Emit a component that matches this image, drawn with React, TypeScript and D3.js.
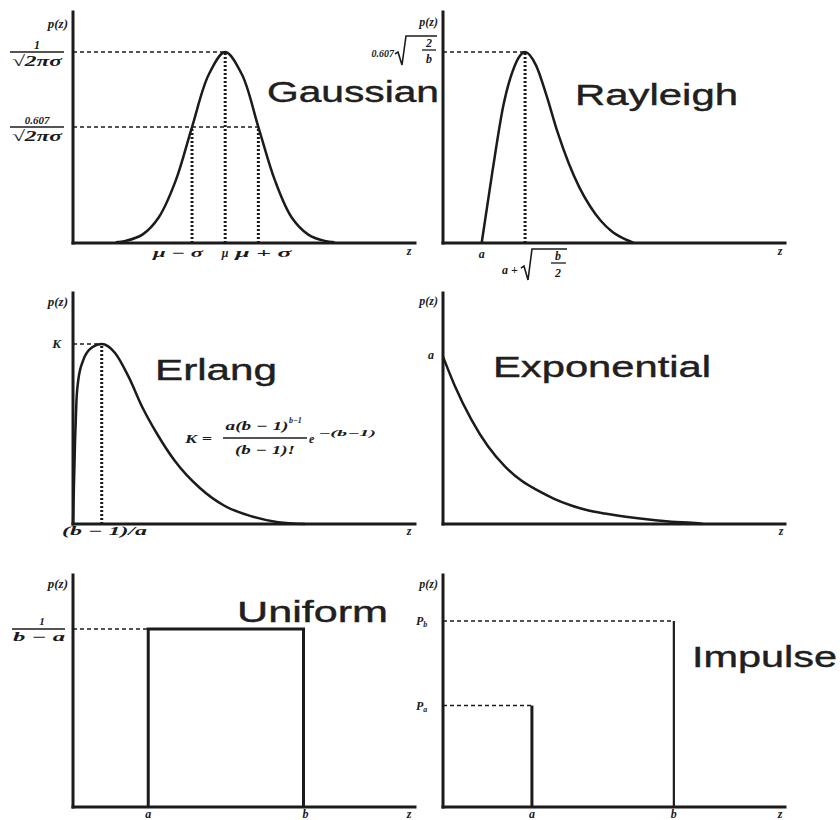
import React from "react";
import * as d3 from "d3";

// ---------------- data ----------------
const titles = ["Gaussian", "Rayleigh", "Erlang", "Exponential", "Uniform", "Impulse"];

const gaussianZ = [1.25, 1.54, 2.03, 2.51, 3.0, 3.48, 3.97, 4.45, 4.94, 5.42, 5.91, 6.39, 6.88, 7.36, 7.65];
const gaussianP = [0.004, 0.011, 0.044, 0.135, 0.325, 0.607, 0.882, 1, 0.882, 0.607, 0.325, 0.135, 0.044, 0.011, 0.004];
const gaussianMarks = [3.48, 4.45, 5.42];
const gaussianMarkLevels = [0.607, 1, 0.607];
const gaussianTickLabels = ["μ − σ", "μ", "μ + σ"];

const rayleighZ = [1.13, 1.45, 1.765, 2.08, 2.25, 2.4, 2.72, 3.03, 3.35, 3.67, 3.99, 4.31, 4.62, 4.94, 5.26, 5.58];
const rayleighP = [0, 0.38, 0.72, 0.92, 0.98, 1, 0.93, 0.77, 0.58, 0.42, 0.29, 0.19, 0.115, 0.06, 0.025, 0];
const rayleighPeak = 2.4;
const rayleighStart = 1.13;

const erlangZ = [0, 0.06, 0.1, 0.155, 0.3, 0.55, 0.84, 1.23, 1.62, 2.05, 2.46, 2.98, 3.71, 4.44, 5.18, 6.0, 6.78];
const erlangP = [0, 0.46, 0.68, 0.8, 0.91, 0.98, 1, 0.95, 0.82, 0.64, 0.5, 0.35, 0.2, 0.1, 0.045, 0.01, 0];
const erlangPeak = 0.84;

const exponentialZ = [0, 0.34, 0.83, 1.32, 1.81, 2.3, 2.78, 3.25, 3.75, 4.2, 4.73, 5.7, 6.68, 7.46, 7.6];
const exponentialP = [0.93, 0.77, 0.58, 0.43, 0.32, 0.24, 0.185, 0.14, 0.103, 0.078, 0.058, 0.032, 0.013, 0.004, 0];

const uniformBounds = [2.2, 6.74];
const uniformHeight = 1.0;

const impulseZ = [2.6, 6.75];
const impulseP = [0.57, 1.045];

// ---------------- layout ----------------
const COLS: [number, number][] = [
  [73, 415],
  [443, 785],
];
const ROWS = [
  { top: 12, base: 243, unit: 191 },
  { top: 293, base: 524, unit: 180 },
  { top: 575, base: 807, unit: 178 },
];

const INK = "#1b1b1b";
const SERIF = "'Liberation Serif', 'DejaVu Serif', serif";
const SANS = "'Liberation Sans', Arial, sans-serif";

function makeScales(col: number, row: number) {
  const [x0, x1] = COLS[col];
  const r = ROWS[row];
  const x = d3.scaleLinear().domain([0, 10]).range([x0, x1]);
  const y = d3.scaleLinear().domain([0, 1]).range([r.base, r.base - r.unit]);
  return { x, y, top: r.top };
}

type S = ReturnType<typeof makeScales>;

const curvePath = (s: S, zs: number[], ps: number[], curve: any = d3.curveCatmullRom.alpha(0.5)) =>
  d3
    .line<number>()
    .x((_, i) => s.x(zs[i]))
    .y((_, i) => s.y(ps[i]))
    .curve(curve)(zs) || "";

const Axes = ({ s }: { s: S }) => (
  <g stroke={INK} strokeWidth={3} fill="none" strokeLinecap="square">
    <line x1={s.x(0)} y1={s.top} x2={s.x(0)} y2={s.y(0)} />
    <line x1={s.x(0)} y1={s.y(0)} x2={s.x(10)} y2={s.y(0)} />
  </g>
);

const M = ({ x, y, size = 12, anchor = "start", len, children }: any) => (
  <text
    x={x}
    y={y}
    fontFamily={SERIF}
    fontStyle="italic"
    fontWeight="bold"
    fontSize={size}
    textAnchor={anchor}
    fill={INK}
    textLength={len}
    lengthAdjust={len ? "spacingAndGlyphs" : undefined}
  >
    {children}
  </text>
);

const Title = ({ x, y, len, children }: any) => (
  <text
    x={x}
    y={y}
    fontFamily={SANS}
    fontSize={29}
    fill="#202020"
    stroke="#202020"
    strokeWidth={0.4}
    textLength={len}
    lengthAdjust="spacingAndGlyphs"
  >
    {children}
  </text>
);

const Radical = ({ x, top, bottom, width }: any) => {
  const h = bottom - top;
  const d = `M${x},${top + h * 0.62} L${x + 3},${top + h * 0.55} L${x + 7},${bottom} L${x + 11},${top} L${x + width},${top}`;
  return <path d={d} fill="none" stroke={INK} strokeWidth={1.6} />;
};

const Dashed = ({ x1, x2, y }: any) => (
  <line x1={x1} x2={x2} y1={y} y2={y} stroke={INK} strokeWidth={1.5} strokeDasharray="4 3" />
);
const Dotted = ({ x, y1, y2 }: any) => (
  <line x1={x} x2={x} y1={y1} y2={y2} stroke={INK} strokeWidth={3} strokeDasharray="2 2" />
);

const Gaussian = () => {
  const s = makeScales(0, 0);
  const mu = gaussianMarks[1];
  const muPlus = gaussianMarks[2];
  return (
    <g>
      <Dashed x1={s.x(0)} x2={s.x(mu)} y={s.y(1)} />
      <Dashed x1={s.x(0)} x2={s.x(muPlus)} y={s.y(0.607)} />
      {gaussianMarks.map((m, i) => (
        <Dotted key={i} x={s.x(m)} y1={s.y(0)} y2={s.y(gaussianMarkLevels[i])} />
      ))}
      <path d={curvePath(s, gaussianZ, gaussianP)} fill="none" stroke={INK} strokeWidth={2.5} />
      <Axes s={s} />
      <M x={68} y={28} size={13} anchor="end">p(z)</M>
      <M x={37} y={s.y(1) - 3} size={12} anchor="middle">1</M>
      <line x1={10} x2={64} y1={s.y(1)} y2={s.y(1)} stroke={INK} strokeWidth={1.5} />
      <M x={37} y={s.y(1) + 14} size={15} anchor="middle" len={50}>√2πσ</M>
      <M x={37} y={s.y(0.607) - 3} size={11} anchor="middle">0.607</M>
      <line x1={10} x2={64} y1={s.y(0.607)} y2={s.y(0.607)} stroke={INK} strokeWidth={1.5} />
      <M x={37} y={s.y(0.607) + 14} size={15} anchor="middle" len={50}>√2πσ</M>
      <M x={s.x(gaussianMarks[0]) + 11} y={257} size={12} anchor="end" len={50}>{gaussianTickLabels[0]}</M>
      <M x={s.x(gaussianMarks[1])} y={257} size={12} anchor="middle">{gaussianTickLabels[1]}</M>
      <M x={s.x(gaussianMarks[2]) - 23} y={257} size={12} anchor="start" len={56}>{gaussianTickLabels[2]}</M>
      <M x={409} y={255} size={12} anchor="middle">z</M>
      <Title x={267} y={102} len={172}>{titles[0]}</Title>
    </g>
  );
};

const Rayleigh = () => {
  const s = makeScales(1, 0);
  return (
    <g>
      <Title x={575} y={105} len={163}>{titles[1]}</Title>
      <Dashed x1={s.x(0)} x2={s.x(rayleighPeak)} y={s.y(1)} />
      <Dotted x={s.x(rayleighPeak)} y1={s.y(0)} y2={s.y(1)} />
      <path d={curvePath(s, rayleighZ, rayleighP, d3.curveMonotoneX)} fill="none" stroke={INK} strokeWidth={2.5} />
      <Axes s={s} />
      <M x={438} y={26} size={12} anchor="end">p(z)</M>
      <M x={394} y={57} size={10} anchor="end">0.607</M>
      <Radical x={395} top={36} bottom={65} width={42} />
      <M x={429} y={47} size={12} anchor="middle">2</M>
      <line x1={422} x2={436} y1={50} y2={50} stroke={INK} strokeWidth={1.3} />
      <M x={429} y={63} size={12} anchor="middle">b</M>
      <M x={s.x(rayleighStart)} y={258} size={12} anchor="middle">a</M>
      <M x={502} y={274} size={12} anchor="start">a +</M>
      <Radical x={521} top={249} bottom={280} width={46} />
      <M x={558} y={260} size={12} anchor="middle">b</M>
      <line x1={551} x2={566} y1={263} y2={263} stroke={INK} strokeWidth={1.3} />
      <M x={558} y={277} size={12} anchor="middle">2</M>
      <M x={780} y={255} size={12} anchor="middle">z</M>
    </g>
  );
};

const Erlang = () => {
  const s = makeScales(0, 1);
  return (
    <g>
      <Title x={155} y={380} len={122}>{titles[2]}</Title>
      <Dashed x1={s.x(0)} x2={s.x(erlangPeak)} y={s.y(1)} />
      <Dotted x={s.x(erlangPeak)} y1={s.y(0)} y2={s.y(1)} />
      <path d={curvePath(s, erlangZ, erlangP, d3.curveMonotoneX)} fill="none" stroke={INK} strokeWidth={2.5} />
      <Axes s={s} />
      <M x={68} y={306} size={13} anchor="end">p(z)</M>
      <M x={61} y={348} size={13} anchor="end">K</M>
      <M x={62} y={535} size={12} anchor="start" len={85}>(b − 1)/a</M>
      <M x={409} y={535} size={12} anchor="middle">z</M>
      {/* formula */}
      <M x={185} y={443} size={13} anchor="start" len={27}>K =</M>
      <M x={257} y={430} size={12} anchor="middle" len={63}>a(b − 1)</M>
      <M x={289} y={423} size={8} anchor="start">b−1</M>
      <line x1={223} x2={307} y1={438} y2={438} stroke={INK} strokeWidth={1.3} />
      <M x={265} y={454} size={12} anchor="middle" len={60}>(b − 1)!</M>
      <M x={309} y={443} size={12} anchor="start">e</M>
      <M x={318} y={436} size={8} anchor="start" len={58}>−(b−1)</M>
    </g>
  );
};

const Exponential = () => {
  const s = makeScales(1, 1);
  return (
    <g>
      <Title x={493} y={377} len={218}>{titles[3]}</Title>
      <path d={curvePath(s, exponentialZ, exponentialP, d3.curveMonotoneX)} fill="none" stroke={INK} strokeWidth={2.5} />
      <Axes s={s} />
      <M x={438} y={305} size={12} anchor="end">p(z)</M>
      <M x={434} y={s.y(exponentialP[0]) + 2} size={12} anchor="end">a</M>
      <M x={781} y={535} size={12} anchor="middle">z</M>
    </g>
  );
};

const Uniform = () => {
  const s = makeScales(0, 2);
  const [a, b] = uniformBounds;
  const d = `M${s.x(a)},${s.y(0)} V${s.y(uniformHeight)} H${s.x(b)} V${s.y(0)}`;
  return (
    <g>
      <Title x={237} y={622} len={151}>{titles[4]}</Title>
      <Dashed x1={s.x(0)} x2={s.x(a)} y={s.y(uniformHeight)} />
      <path d={d} fill="none" stroke={INK} strokeWidth={3} />
      <Axes s={s} />
      <M x={68} y={588} size={13} anchor="end">p(z)</M>
      <M x={42} y={s.y(uniformHeight) - 4} size={11} anchor="middle">1</M>
      <line x1={12} x2={65} y1={s.y(uniformHeight)} y2={s.y(uniformHeight)} stroke={INK} strokeWidth={1.5} />
      <M x={39} y={s.y(uniformHeight) + 12} size={12} anchor="middle" len={52}>b − a</M>
      <M x={s.x(a)} y={818} size={12} anchor="middle">a</M>
      <M x={s.x(b) + 2} y={818} size={12} anchor="middle">b</M>
      <M x={409} y={818} size={12} anchor="middle">z</M>
    </g>
  );
};

const Impulse = () => {
  const s = makeScales(1, 2);
  const subs = ["a", "b"];
  return (
    <g>
      <Title x={692} y={667} len={145}>{titles[5]}</Title>
      {impulseZ.map((z, i) => (
        <g key={i}>
          <Dashed x1={s.x(0)} x2={s.x(z)} y={s.y(impulseP[i])} />
          <line
            x1={s.x(z)}
            x2={s.x(z)}
            y1={s.y(0)}
            y2={s.y(impulseP[i])}
            stroke={INK}
            strokeWidth={i === 0 ? 3 : 2.2}
          />
          <text
            x={416}
            y={s.y(impulseP[i]) + 4}
            fontFamily={SERIF}
            fontStyle="italic"
            fontWeight="bold"
            fontSize={12}
            fill={INK}
          >
            P
            <tspan fontSize={8} dy={2}>
              {subs[i]}
            </tspan>
          </text>
          <M x={s.x(z)} y={818} size={12} anchor="middle">{subs[i]}</M>
        </g>
      ))}
      <Axes s={s} />
      <M x={438} y={588} size={12} anchor="end">p(z)</M>
      <M x={780} y={818} size={12} anchor="middle">z</M>
    </g>
  );
};

export default function App() {
  return (
    <svg
      width={840}
      height={820}
      viewBox="0 0 840 820"
      style={{ position: "absolute", left: 0, top: 0, display: "block", background: "#fff" }}
    >
      <rect width={840} height={820} fill="#fff" />
      <Gaussian />
      <Rayleigh />
      <Erlang />
      <Exponential />
      <Uniform />
      <Impulse />
    </svg>
  );
}
